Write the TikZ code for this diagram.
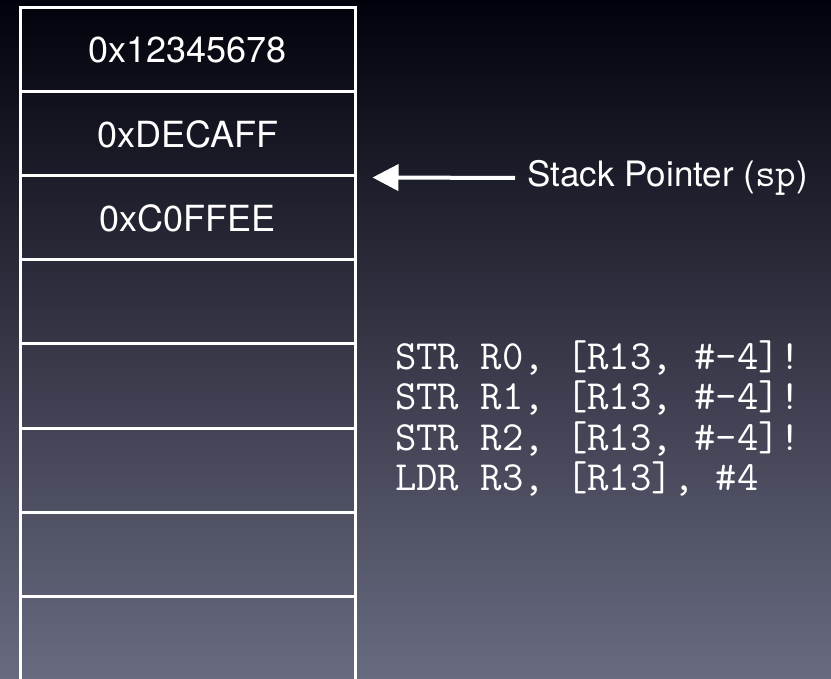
\documentclass[tikz,border=0pt]{standalone}
\usepackage{fontspec}
\setmainfont{TeX Gyre Heros}
\usetikzlibrary{positioning,arrows.meta}

\definecolor{bgtop}{HTML}{02020C}
\definecolor{bgmid}{HTML}{1E1F44}
\definecolor{bgbot}{HTML}{686A80}

\begin{document}
\begin{tikzpicture}[
    x=1pt, y=-1pt,
    cell/.style={draw=white, line width=3pt, minimum width=335pt,
                 minimum height=84pt, inner sep=0pt, text=white,
                 font=\fontsize{36}{36}\selectfont},
    code/.style={text=white, align=left, inner sep=0pt,
                 font=\fontsize{41.5}{40.5}\selectfont\ttfamily},
    arr/.style={-{Triangle[length=26pt,width=26pt]}, white, line width=4pt},
  ]
  % background
  \shade[top color=bgtop, middle color=bgmid, bottom color=bgbot]
    (0,0) rectangle (831,679);
  \useasboundingbox (0,0) rectangle (831,679);

  % the stack, one cell per word
  \begin{scope}
    \clip (0,0) rectangle (831,679);
    \foreach \val [count=\i] in {0x12345678,0xDECAFF,0xC0FFEE,,,,,}
      \node[cell] (c\i) at (187.5, {50+84*(\i-1)}) {\val};
  \end{scope}

  % stack pointer
  \node[text=white, anchor=west, inner sep=0pt,
        font=\fontsize{35}{35}\selectfont]
    (sp) at (527,178) {Stack Pointer ({\ttfamily\fontsize{40}{40}\selectfont sp})};
  \coordinate (sptip) at ([xshift=16pt]c2.south east);
  \draw[arr, shorten <=12pt] (sp.west) -- (sptip);

  % code
  \node[code, anchor=north west] (prog) at (395,340)
    {STR R0, [R13, \#-4]!\\
     STR R1, [R13, \#-4]!\\
     STR R2, [R13, \#-4]!\\
     LDR R3, [R13], \#4};
\end{tikzpicture}
\end{document}
